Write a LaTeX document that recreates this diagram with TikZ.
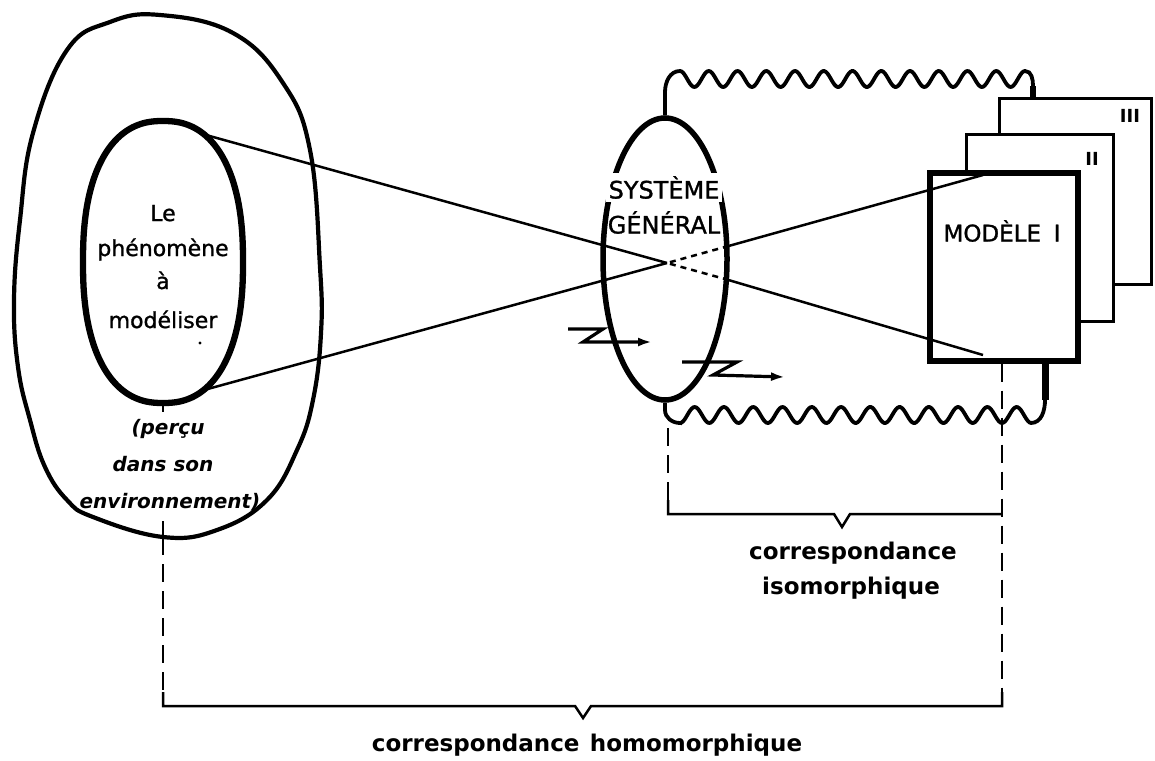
\documentclass[tikz,border=0pt]{standalone}
\usepackage{fontspec}
\setmainfont{DejaVu Sans}
\usetikzlibrary{arrows.meta,shapes.geometric}
\begin{document}
\begin{tikzpicture}[x=1pt,y=-1pt,
  thinline/.style={line width=2.5pt},
  heavy/.style={line width=6.3pt},
  wavy/.style={line width=3.8pt},
  dashline/.style={line width=2.5pt, dash pattern=on 18pt off 9pt},
  shortdash/.style={line width=2.5pt, dash pattern=on 6pt off 5pt},
  zarrow/.style={line width=3.2pt, -{Latex[length=14pt,width=9pt]}},
  lbl/.style={font=\fontsize{22}{26}\selectfont\addfontfeature{FakeBold=1.2}, inner sep=0pt, anchor=base},
  ital/.style={font=\fontsize{20}{24}\selectfont\bfseries\itshape, inner sep=0pt, anchor=base},
  caps/.style={font=\fontsize{24}{28}\selectfont\addfontfeature{FakeBold=1.2}, inner sep=0pt, anchor=base},
  bold/.style={font=\fontsize{23}{27}\selectfont\bfseries, inner sep=0pt, anchor=base},
  roman/.style={font=\fontsize{18}{22}\selectfont\bfseries, inner sep=0pt, anchor=base},
  modbox/.style={draw, fill=white, inner sep=0pt, anchor=north west}
]
\useasboundingbox (0,0) rectangle (1155,760);

% outer blob (environment)
\draw[line width=4.2pt] plot[smooth cycle, tension=0.7] coordinates {(160,15) (233,33) (283,83) (310,150) (320,267) (321,333) (313,400) (297,450) (267,500) (217,530) (163,537) (93,517) (67,500) (45,467) (30,420) (18,367) (14,300) (20,220) (33,133) (67,50) (110,22)};

% inner egg (phenomenon)
\draw[heavy] plot[domain=0:360, samples=120, smooth cycle]
  ({163+80*sign(cos(\x))*pow(abs(cos(\x)),0.85)}, {262+141*sign(sin(\x))*pow(abs(sin(\x)),0.85)});
\draw[line width=1.8pt] (163,404) -- (163,412);
\fill (200,343) circle (1.6pt);

\node[lbl] (t1) at (163,221) {Le};
\node[lbl] (t2) at (163,256) {phénomène};
\node[lbl] (t3) at (163,289) {à};
\node[lbl] (t4) at (163,328) {modéliser};
\node[ital] (t5) at (168,434) {(perçu};
\node[ital] (t6) at (163,471) {dans son};
\node[ital] (t7) at (170,508) {environnement)};

% systeme general
\node[draw, line width=5.5pt, ellipse, minimum width=124pt, minimum height=282pt, inner sep=0pt] (sg) at (665,259) {};
\node[caps, fill=white, inner sep=3pt] (sys) at (664,198.5) {SYSTÈME};
\node[caps] (gen) at (664,233.5) {GÉNÉRAL};

% model boxes
\node[modbox, line width=3pt, minimum width=152pt, minimum height=186pt] (b3) at (998,97) {};
\node[roman] (l3) at (1130,122) {III};
\node[modbox, line width=3pt, minimum width=147pt, minimum height=187pt] (b2) at (965,133) {};
\node[roman] (l2) at (1092,165) {II};
\node[modbox, line width=5.5pt, minimum width=148pt, minimum height=188pt] (b1) at (927,170) {};
\node[caps, font=\fontsize{23}{27}\selectfont\addfontfeature{FakeBold=1.2}] (m1) at (1002,241.5) {MODÈLE\hspace{0.55em}I};

% projection lines
\coordinate (pA) at (206,135);
\coordinate (pB) at (204,390);
\coordinate (X) at (667,263);
\coordinate (sU) at (725,247);
\coordinate (sD) at (725,279);
\coordinate (mU) at (983,175);
\coordinate (mD) at (983,355);
\draw[thinline] (pA) -- (X);
\draw[thinline] (pB) -- (X);
\draw[shortdash, dash phase=-3pt] (X) -- (sU);
\draw[shortdash, dash phase=-3pt] (X) -- (sD);
\draw[thinline] (sU) -- (mU);
\draw[thinline] (sD) -- (mD);

% wavy links
\draw[wavy] (sg.north) -- (665,92) to[out=90,in=180] (680,71)
  -- plot[domain=680:1025, samples=240, smooth] (\x,{79-8*cos(12.5217*(\x-680))})
  to[out=0,in=90] (1033,86);
\coordinate (tEnd) at (1033,86);
\draw[line width=6pt] (tEnd) -- (tEnd |- b3.north);

\draw[wavy] (sg.south) -- (665,410) to[out=-90,in=180] (680,423)
  -- plot[domain=680:1031, samples=240, smooth] (\x,{415+8*cos(12.2993*(\x-1002))})
  to[out=0,in=-90] (1045,400);
\coordinate (bEnd) at (1045,400);
\draw[line width=7pt] (bEnd) -- (bEnd |- b1.south);

% z arrows
\draw[zarrow] (568,329) -- (603,329) -- (583,342) -- (652,342);
\draw[zarrow] (682,362) -- (737,362) -- (713,375) -- (785,377);

% correspondences
\coordinate (ob) at (163,537);
\coordinate (hL) at (163,706);
\coordinate (hR) at (1002,706);
\draw[line width=1.2pt] (163,521) -- (ob);
\draw[dashline] (ob) -- (163,692);
\draw[thinline] (163,692) -- (hL) -- (575,706) -- (583,718) -- (591,706) -- (hR) -- (1002,692);
\draw[dashline] (hR |- b1.south) -- (1002,692);

\coordinate (iL) at (668,514);
\coordinate (iR) at (1002,514);
\draw[dashline] (668,428) -- (668,500);
\draw[thinline] (668,500) -- (iL) -- (834,514) -- (842,527) -- (850,514) -- (iR);

\node[bold] (c1) at (853,559) {correspondance};
\node[bold] (c2) at (851,594) {isomorphique};
\node[bold] (c3) at (587,751) {correspondance\hspace{0.45em}homomorphique};
\end{tikzpicture}
\end{document}
